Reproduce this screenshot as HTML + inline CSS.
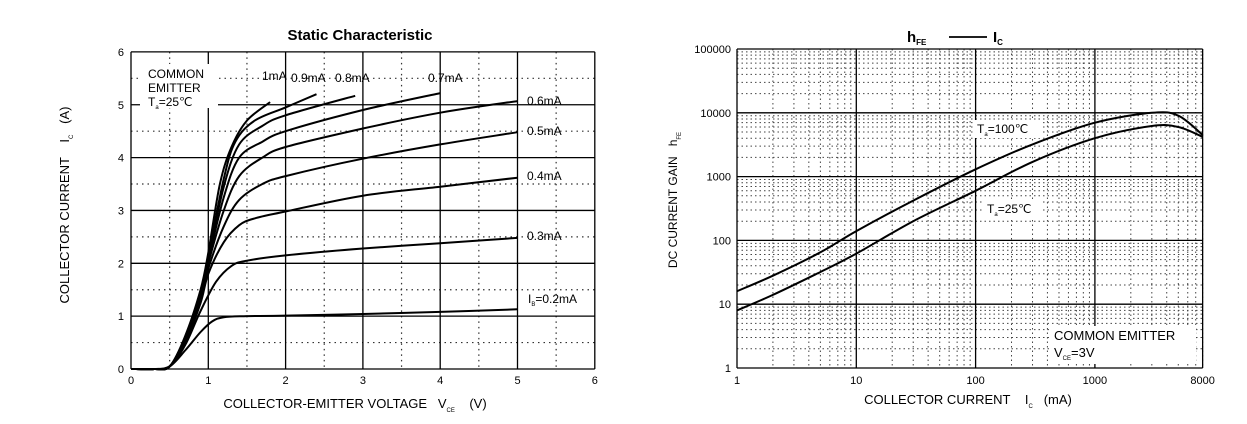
<!DOCTYPE html>
<html><head><meta charset="utf-8">
<style>
body{margin:0;background:#fff;width:1247px;height:424px;overflow:hidden;font-family:"Liberation Sans",Arial,sans-serif;}
svg{position:absolute;left:0;top:0}
text{font-family:"Liberation Sans",Arial,sans-serif;fill:#000}
</style></head>
<body>
<svg id="svg" width="1247" height="424" viewBox="0 0 1247 424">
  <g id="left"></g>
  <g id="right"></g>
</svg>
<script>
// ---------- Left chart data ----------
const leftXTicks = [0,1,2,3,4,5,6];
const leftYTicks = [0,1,2,3,4,5,6];
const curveLabels = ["0.2mA","0.3mA","0.4mA","0.5mA","0.6mA","0.7mA","0.8mA","0.9mA","1mA"];
const curveV = [
 [0,0.3,0.5,0.7,0.9,1.05,1.2,1.5,2,3,4,5],
 [0,0.3,0.5,0.7,0.9,1.1,1.3,1.5,2,3,4,5],
 [0,0.3,0.5,0.7,0.9,1.0,1.2,1.4,1.6,2,3,4,5],
 [0,0.3,0.5,0.7,0.9,1.0,1.2,1.4,1.7,2,3,4,5],
 [0,0.3,0.5,0.7,0.9,1.0,1.2,1.4,1.7,2,3,4,5],
 [0,0.3,0.5,0.7,0.9,1.0,1.2,1.4,1.7,2,3,4],
 [0,0.3,0.5,0.7,0.9,1.0,1.2,1.4,1.7,2,2.9],
 [0,0.3,0.5,0.7,0.9,1.0,1.2,1.35,1.6,2.0,2.4],
 [0,0.3,0.5,0.7,0.9,1.0,1.15,1.3,1.5,1.8]
];
const curveI = [
 [0,0,0.05,0.35,0.7,0.9,0.98,1.0,1.01,1.04,1.08,1.13],
 [0,0,0.05,0.45,1.1,1.65,1.95,2.05,2.15,2.28,2.38,2.48],
 [0,0,0.05,0.5,1.25,1.8,2.4,2.72,2.85,2.98,3.28,3.45,3.62],
 [0,0,0.05,0.52,1.3,1.9,2.7,3.2,3.5,3.65,3.98,4.25,4.48],
 [0,0,0.05,0.55,1.35,2.0,3.0,3.65,4.0,4.2,4.55,4.85,5.07],
 [0,0,0.05,0.57,1.4,2.05,3.25,4.0,4.3,4.5,4.9,5.22],
 [0,0,0.05,0.58,1.42,2.1,3.45,4.25,4.6,4.8,5.17],
 [0,0,0.05,0.6,1.45,2.15,3.6,4.3,4.7,4.95,5.2],
 [0,0,0.05,0.62,1.5,2.2,3.5,4.2,4.7,5.05]
];
// ---------- Right chart data ----------
const rightXTicks = [1,10,100,1000,8000];
const rightYTicks = [1,10,100,1000,10000,100000];
const hfeIc = [1,2,5,10,30,100,300,1000,3000,5000,8000];
const hfe100 = [16,28,65,140,420,1300,3200,7000,10000,9000,4500];
const hfe25 = [8,14,32,62,200,600,1700,4000,6200,6000,4200];

const NS="http://www.w3.org/2000/svg";
function mk(parent,tag,attrs,txt){const e=document.createElementNS(NS,tag);for(const k in attrs)e.setAttribute(k,attrs[k]);if(txt!==undefined)e.textContent=txt;parent.appendChild(e);return e;}
function smooth(pts){
  let d="M"+pts[0][0].toFixed(1)+","+pts[0][1].toFixed(1);
  for(let i=0;i<pts.length-1;i++){
    const p0=pts[Math.max(0,i-1)],p1=pts[i],p2=pts[i+1],p3=pts[Math.min(pts.length-1,i+2)];
    const c1=[p1[0]+(p2[0]-p0[0])/6,p1[1]+(p2[1]-p0[1])/6];
    const c2=[p2[0]-(p3[0]-p1[0])/6,p2[1]-(p3[1]-p1[1])/6];
    d+=" C"+c1[0].toFixed(1)+","+c1[1].toFixed(1)+" "+c2[0].toFixed(1)+","+c2[1].toFixed(1)+" "+p2[0].toFixed(1)+","+p2[1].toFixed(1);
  }
  return d;
}

// ---------- Left chart ----------
const L=document.getElementById('left');
const lx=v=>131+v*77.3, ly=v=>369-v*52.85;
for(let v=0.5;v<6;v+=1){
  let e=mk(L,'line',{x1:lx(v),x2:lx(v),y1:ly(6),y2:ly(0),stroke:'#333','stroke-width':1.2,'stroke-dasharray':'1.5,4'});
  
  e=mk(L,'line',{x1:lx(0),x2:lx(6),y1:ly(v),y2:ly(v),stroke:'#333','stroke-width':1.2,'stroke-dasharray':'1.5,4'});
  
}
leftXTicks.forEach(v=>{
  let e=mk(L,'line',{x1:lx(v),x2:lx(v),y1:ly(6),y2:ly(0),stroke:'#000','stroke-width':1.3});
  
  e=mk(L,'text',{x:lx(v),y:384,'font-size':11,'text-anchor':'middle'},v);
  
});
leftYTicks.forEach(v=>{
  let e=mk(L,'line',{x1:lx(0),x2:lx(6),y1:ly(v),y2:ly(v),stroke:'#000','stroke-width':1.3});
  
  e=mk(L,'text',{x:124,y:ly(v)+4,'font-size':11,'text-anchor':'end'},v);
  
});
let bx=mk(L,'rect',{x:140,y:64,width:78,height:44,fill:'#fff'});

curveV.forEach((vs,i)=>{
  const pts=vs.map((v,j)=>[lx(v),ly(curveI[i][j])]);
  const p=mk(L,'path',{d:smooth(pts),fill:'none',stroke:'#000','stroke-width':2});
  
  
});
const lblPos=[[528,303],[527,240],[527,180],[527,135],[527,105],[428,82],[335,82],[291,82],[262,80]];
curveLabels.forEach((t,i)=>{
  if(i===0){
    const e=mk(L,'text',{x:lblPos[i][0],y:lblPos[i][1],'font-size':12},'');
    e.innerHTML='I<tspan font-size="6" dy="3">B</tspan><tspan dy="-3">=0.2mA</tspan>';
    
  } else {
    const e=mk(L,'text',{x:lblPos[i][0],y:lblPos[i][1],'font-size':12},t);
    
  }
});
let t;
t=mk(L,'text',{x:148,y:78,'font-size':12},'COMMON');
t=mk(L,'text',{x:148,y:92,'font-size':12},'EMITTER');
t=mk(L,'text',{x:148,y:106,'font-size':12},'');t.innerHTML='T<tspan font-size="6" dy="3">a</tspan><tspan dy="-3">=25℃</tspan>';

t=mk(L,'text',{x:360,y:40,'font-size':15,'font-weight':'bold','text-anchor':'middle'},'Static Characteristic');

t=mk(L,'text',{x:355,y:408,'font-size':13,'text-anchor':'middle'},'');
t.innerHTML='COLLECTOR-EMITTER VOLTAGE&#160;&#160;&#160;V<tspan font-size="6" dy="4">CE</tspan><tspan dy="-4">&#160;&#160;&#160;&#160;(V)</tspan>';

t=mk(L,'text',{x:0,y:0,'font-size':13,'text-anchor':'middle',transform:'translate(69,205) rotate(-90)'},'');
t.innerHTML='COLLECTOR CURRENT&#160;&#160;&#160;&#160;I<tspan font-size="6" dy="4">C</tspan><tspan dy="-4">&#160;&#160;&#160;(A)</tspan>';


// ---------- Right chart ----------
const R=document.getElementById('right');
const rx=v=>737+Math.log10(v)*119.3, ry=v=>368-Math.log10(v)*63.8;
const xmax=8000;
for(let d=1;d<=1000;d*=10){
  for(let m=2;m<=9;m++){
    const v=d*m; if(v>xmax) break;
    const e=mk(R,'line',{x1:rx(v),x2:rx(v),y1:ry(100000),y2:ry(1),stroke:'#444','stroke-width':1,'stroke-dasharray':'1.5,3'});
    
  }
}
for(let d=1;d<=10000;d*=10){
  for(let m=2;m<=9;m++){
    const v=d*m;
    const e=mk(R,'line',{x1:rx(1),x2:rx(xmax),y1:ry(v),y2:ry(v),stroke:'#444','stroke-width':1,'stroke-dasharray':'1.5,3'});
    
  }
}
[1,10,100,1000].forEach(v=>{
  const e=mk(R,'line',{x1:rx(v),x2:rx(v),y1:ry(100000),y2:ry(1),stroke:'#000','stroke-width':1.3});
  
});
let e0=mk(R,'line',{x1:rx(xmax),x2:rx(xmax),y1:ry(100000),y2:ry(1),stroke:'#000','stroke-width':1.3});

rightXTicks.forEach(v=>{
  const e=mk(R,'text',{x:rx(v),y:384,'font-size':11,'text-anchor':'middle'},v);
  
});
rightYTicks.forEach(v=>{
  let e=mk(R,'line',{x1:rx(1),x2:rx(xmax),y1:ry(v),y2:ry(v),stroke:'#000','stroke-width':1.3});
  
  e=mk(R,'text',{x:731,y:ry(v)+4,'font-size':11,'text-anchor':'end'},v);
  
});
let b;
b=mk(R,'rect',{x:973,y:120,width:68,height:18,fill:'#fff'});
b=mk(R,'rect',{x:984,y:200,width:58,height:18,fill:'#fff'});
b=mk(R,'rect',{x:1050,y:326,width:146,height:38,fill:'#fff'});
let p;
p=mk(R,'path',{d:smooth(hfeIc.map((v,i)=>[rx(v),ry(hfe100[i])])),fill:'none',stroke:'#000','stroke-width':2});

p=mk(R,'path',{d:smooth(hfeIc.map((v,i)=>[rx(v),ry(hfe25[i])])),fill:'none',stroke:'#000','stroke-width':2});

t=mk(R,'text',{x:977,y:133,'font-size':12},'');t.innerHTML='T<tspan font-size="6" dy="3">a</tspan><tspan dy="-3">=100℃</tspan>';

t=mk(R,'text',{x:987,y:213,'font-size':12},'');t.innerHTML='T<tspan font-size="6" dy="3">a</tspan><tspan dy="-3">=25℃</tspan>';

t=mk(R,'text',{x:1054,y:340,'font-size':13},'COMMON EMITTER');
t=mk(R,'text',{x:1054,y:357,'font-size':13},'');t.innerHTML='V<tspan font-size="6" dy="3">CE</tspan><tspan dy="-3">=3V</tspan>';

t=mk(R,'text',{x:907,y:42,'font-size':15,'font-weight':'bold'},'');
t.innerHTML='h<tspan font-size="8" dy="3">FE</tspan>';

t=mk(R,'text',{x:993,y:42,'font-size':15,'font-weight':'bold'},'');
t.innerHTML='I<tspan font-size="8" dy="3">C</tspan>';

let ln=mk(R,'line',{x1:949,x2:987,y1:37,y2:37,stroke:'#000','stroke-width':1.8});

t=mk(R,'text',{x:968,y:404,'font-size':13,'text-anchor':'middle'},'');
t.innerHTML='COLLECTOR CURRENT&#160;&#160;&#160;&#160;I<tspan font-size="6" dy="4">C</tspan><tspan dy="-4">&#160;&#160;&#160;(mA)</tspan>';

t=mk(R,'text',{x:0,y:0,'font-size':12,'text-anchor':'middle',transform:'translate(677,200) rotate(-90)'},'');
t.innerHTML='DC CURRENT GAIN&#160;&#160;&#160;h<tspan font-size="6" dy="4">FE</tspan>';

</script>
</body></html>
